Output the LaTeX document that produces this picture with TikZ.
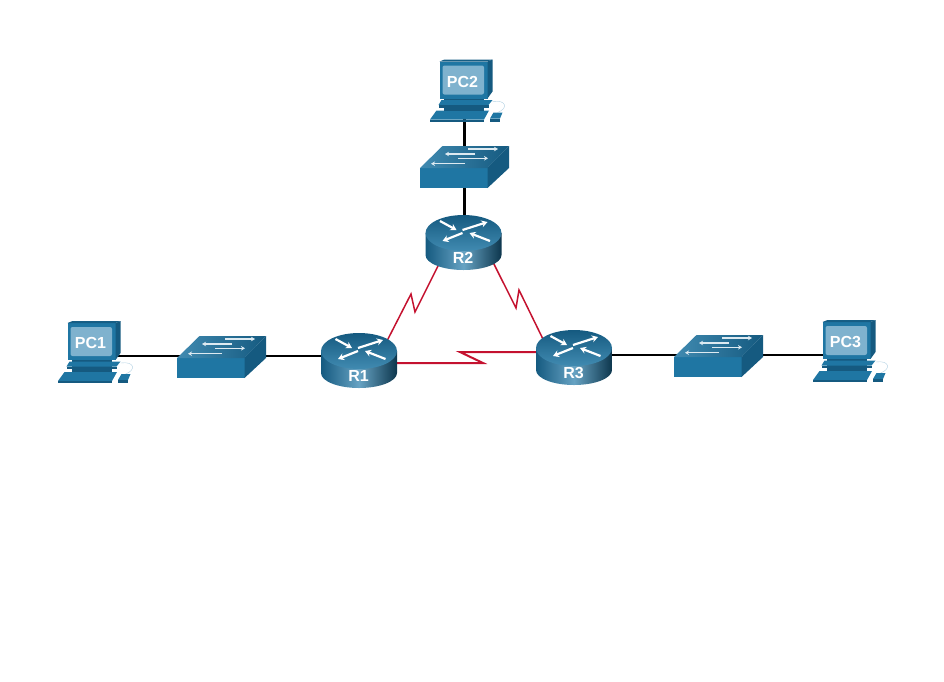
\documentclass[tikz,border=0pt]{standalone}
\usepackage{fontspec}
\setmainfont{Liberation Sans}
\usetikzlibrary{arrows.meta}

\definecolor{iconblue}{HTML}{1F76A3}
\definecolor{icondark}{HTML}{155A80}
\definecolor{iconlight}{HTML}{7FB2CE}
\definecolor{serialred}{HTML}{C4122F}

\tikzset{
	pcbox/.style={inner sep=0pt, minimum width=40pt, minimum height=30pt},
	swbox/.style={inner sep=0pt, minimum width=80pt, minimum height=30pt},
	rtbox/.style={inner sep=0pt, minimum width=76pt, minimum height=24pt},
	lan/.style={black, line width=2.3pt},
	serial/.style={serialred, line width=1.5pt, line join=miter},
	devlabel/.style={white, inner sep=0pt, font=\fontsize{16}{16}\selectfont\bfseries},
	flow/.style={white, line width=2.2pt, -{Stealth[length=6pt, width=7pt]}},
	swflow/.style={white!85!iconblue, line width=1.5pt, -{Stealth[length=4pt, width=4.5pt]}},
	pics/routericon/.style={code={
		\path[left color=icondark, right color=icondark!60!black, middle color=iconlight!75!iconblue]
			(-39,-10) -- (-39,12) arc[start angle=180, end angle=0, x radius=38, y radius=15] -- (37,-10) -- cycle;
		\path[top color=icondark, bottom color=iconblue!85!white]
			(-1,-10) ellipse[x radius=38, y radius=18];
		\draw[flow] (-24.5,-22) -- (-8,-13);
		\draw[flow] (-2,-13) -- (23,-21);
		\draw[flow] (-2,-10) -- (-22,-2);
		\draw[flow] (25.5,-2) -- (5,-10);
		\node[devlabel] (lab) at (-1.5,15) {#1};
	}},
	pics/switchicon/.style={code={
		\fill[iconblue] (-44.5,2) rectangle (23,22);
		\path[left color=iconblue!85!white, right color=icondark] (-44.5,2) -- (-22,-20) -- (44.5,-20) -- (23,2) -- cycle;
		\fill[icondark] (23,2) -- (44.5,-20) -- (44.5,2) -- (23,22) -- cycle;
		\draw[swflow] (3.5,-17) -- (33.5,-17);
		\draw[swflow] (10.5,-12) -- (-19.5,-12);
		\draw[swflow] (-6.5,-7.7) -- (23.5,-7.7);
		\draw[swflow] (0.5,-2.3) -- (-33.5,-2.3);
	}},
	pics/pcicon/.style={code={
		\draw[iconlight!60!white, line width=0.4pt] (28,7) .. controls (42,5) and (44,14) .. (33,18);
		\fill[iconblue] (-34.5,25) -- (-28,16) -- (24.5,16) -- (19.5,25) -- cycle;
		\fill[icondark] (-34.5,25) rectangle (19.5,27);
		\fill[iconblue] (25.5,24) -- (29,18) -- (38,18) -- (35.5,24) -- cycle;
		\fill[icondark] (25.5,24) rectangle (35.5,27);
		\fill[icondark] (-21,4) rectangle (19.5,16);
		\fill[iconblue] (-26,10.5) -- (-23,5.5) -- (28,5.5) -- (24,10.5) -- cycle;
		\fill[icondark] (-26,10.5) rectangle (24,13);
		\fill[iconblue] (-25,-33) rectangle (23,4);
		\fill[icondark!85!iconblue] (-25,-33) -- (-20,-35) -- (28,-35) -- (23,-33) -- cycle;
		\fill[icondark] (23,-33) -- (28,-35) -- (28,-3) -- (23,4) -- cycle;
		\fill[iconlight, rounded corners=2pt] (-22,-29) rectangle (19.5,0);
		\node[devlabel] (lab) at (-2,-13) {#1};
	}},
}

\begin{document}
\begin{tikzpicture}[x=1pt, y=-1pt]
	\useasboundingbox (0,0) rectangle (944,681);

	\node[pcbox] (PC1) at (92.5,356) {};
	\node[swbox] (SW1) at (221.5,356) {};
	\node[rtbox] (R1) at (360,361) {};
	\node[rtbox] (R2) at (464.5,243) {};
	\node[swbox] (SW2) at (464.5,166) {};
	\node[pcbox] (PC2) at (464.5,94.5) {};
	\node[rtbox] (R3) at (575,358) {};
	\node[swbox] (SW3) at (718.5,355) {};
	\node[pcbox] (PC3) at (847.5,355) {};

	\coordinate (z12a) at (411,294);
	\coordinate (z12b) at (415,312);
	\coordinate (z23a) at (516,308);
	\coordinate (z23b) at (519,290);
	\coordinate (z13a) at (483,363);
	\coordinate (z13b) at (460,352);

	\draw[lan] (PC1) -- (SW1);
	\draw[lan] (SW1) -- (SW1 -| R1);
	\draw[lan] (PC2) -- (SW2);
	\draw[lan] (SW2) -- (R2);
	\draw[lan] (PC3) -- (SW3);
	\draw[lan] (SW3) -- (SW3 -| R3);
	\draw[serial] (R1.28) -- (z12a) -- (z12b) -- (R2.210);
	\draw[serial] (R2.-26) -- (z23a) -- (z23b) -- (R3.157);
	\draw[serial, line width=2pt] (R1 |- z13a) -- (z13a) -- (z13b) -- (R3 |- z13b);

	\pic at (R1) {routericon=R1};
	\pic at (R2) {routericon=R2};
	\pic at (R3) {routericon=R3};
	\pic at (SW1) {switchicon};
	\pic at (SW2) {switchicon};
	\pic at (SW3) {switchicon};
	\pic at (PC1) {pcicon=PC1};
	\pic at (PC2) {pcicon=PC2};
	\pic at (PC3) {pcicon=PC3};
\end{tikzpicture}
\end{document}
